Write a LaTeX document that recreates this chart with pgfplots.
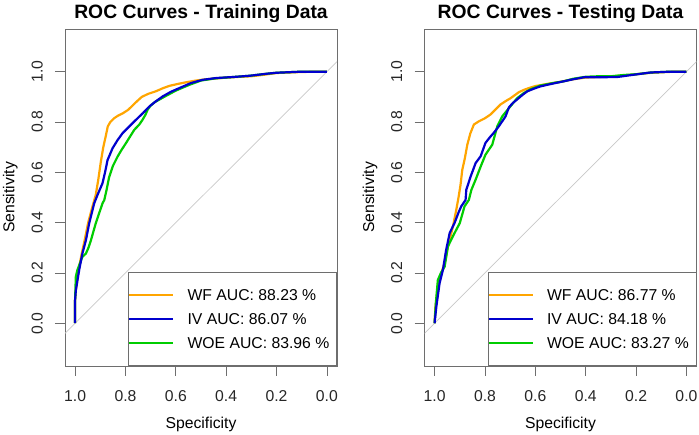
\documentclass[border=0pt]{standalone}
\usepackage{fontspec}
\setmainfont{Liberation Sans}
\usepackage{pgfplots}
\pgfplotsset{compat=1.18}
\definecolor{axgray}{RGB}{110,110,110}
\definecolor{wfcol}{RGB}{255,165,0}
\definecolor{ivcol}{RGB}{0,0,205}
\definecolor{woecol}{RGB}{0,205,0}
\definecolor{diagcol}{RGB}{200,200,200}
\newcommand{\lbfont}{\fontsize{15.8}{18}\selectfont}
\pgfplotsset{
  rocaxis/.style={
    scale only axis, width=272bp, height=337bp,
    xmin=-0.04, xmax=1.04, ymin=-0.17, ymax=1.17,
    x dir=reverse,
    xtick={0,0.2,0.4,0.6,0.8,1},
    xticklabels={0.0,0.2,0.4,0.6,0.8,1.0},
    ytick={0,0.2,0.4,0.6,0.8,1},
    yticklabels={0.0,0.2,0.4,0.6,0.8,1.0},
    tick pos=left, tick align=outside, major tick length=10bp,
    tick style={draw=axgray, line width=0.8bp},
    axis line style={draw=axgray, line width=0.8bp},
    /pgf/number format/assume math mode=true,
    tick label style={font=\lbfont, text=black!85},
    xticklabel style={anchor=north, inner sep=0pt},
    xticklabel shift=14.5bp,
    yticklabel style={rotate=90, anchor=south, inner sep=0pt},
    yticklabel shift=12bp,
    xlabel={Specificity}, ylabel={Sensitivity},
    xlabel style={at={([yshift=-62.5bp]axis description cs:0.5,0)}, anchor=base, inner sep=0pt, font=\lbfont},
    ylabel style={at={([xshift=-50.5bp]axis description cs:0,0.5)}, anchor=base, inner sep=0pt, font=\lbfont},
    every axis title/.style={at={([yshift=10.5bp]axis description cs:0.5,1)}, anchor=base, inner sep=0pt, font=\bfseries\fontsize{19.4}{23}\selectfont},
    legend style={at={(1,0)}, anchor=south east, draw=axgray, line width=0.8bp, fill=white,
      inner xsep=0pt, inner ysep=11bp, row sep=0pt, column sep=13bp,
      cells={anchor=west},
      nodes={inner sep=0pt, text height=17.5bp, text depth=6.2bp, font=\lbfont}},
    legend image code/.code={\path (0bp,0bp) -- (14bp,0bp); \draw[#1] (14bp,0bp) -- (44bp,0bp);},
  },
  wf/.style={draw=wfcol, line width=2.2bp, line join=round},
  iv/.style={draw=ivcol, line width=2.2bp, line join=round},
  woe/.style={draw=woecol, line width=2.2bp, line join=round},
}
\begin{document}
\begin{tikzpicture}[x=1bp,y=1bp]
\path[use as bounding box] (0,0) rectangle (699,435);
% ---------------- Training ----------------
\begin{axis}[rocaxis, at={(65bp,69bp)}, anchor=south west, title={ROC Curves - Training Data}]
\addplot[diagcol, line width=0.7bp, forget plot] coordinates {(1.04,-0.04) (-0.04,1.04)};
\addplot[wf] coordinates {
(1,0) (1,0.09) (0.997,0.13) (0.988,0.2) (0.975,0.27) (0.962,0.33) (0.948,0.4) (0.932,0.46)
(0.918,0.51) (0.908,0.57) (0.898,0.64) (0.888,0.7) (0.878,0.745) (0.87,0.783) (0.86,0.8)
(0.845,0.815) (0.83,0.825) (0.81,0.835) (0.79,0.848) (0.772,0.865) (0.755,0.882) (0.735,0.9)
(0.71,0.912) (0.68,0.922) (0.65,0.935) (0.625,0.944) (0.59,0.952) (0.56,0.958) (0.52,0.965)
(0.48,0.97) (0.42,0.975) (0.36,0.979) (0.3,0.982) (0.25,0.988) (0.2,0.995) (0.15,0.997)
(0.1,0.999) (0.05,1) (0,1)};
\addlegendentry{\makebox[149bp][l]{WF AUC: 88.23 \%}}
\addplot[woe, forget plot] coordinates {
(1,0) (1,0.09) (0.997,0.185) (0.991,0.211) (0.971,0.264) (0.957,0.277) (0.947,0.3) (0.937,0.33)
(0.918,0.397) (0.891,0.477) (0.884,0.49) (0.875,0.53) (0.865,0.58) (0.85,0.625) (0.831,0.663)
(0.815,0.69) (0.798,0.716) (0.78,0.745) (0.765,0.769) (0.745,0.79) (0.732,0.809) (0.72,0.83)
(0.712,0.849) (0.7,0.865) (0.685,0.878) (0.65,0.898) (0.6,0.925) (0.546,0.948) (0.5,0.965)
(0.44,0.974) (0.373,0.979) (0.307,0.984) (0.24,0.992) (0.2,0.996) (0.108,1) (0,1)};
\addplot[iv] coordinates {
(1,0) (1,0.092) (0.997,0.13) (0.984,0.21) (0.971,0.277) (0.957,0.33) (0.944,0.397) (0.924,0.477)
(0.911,0.51) (0.891,0.557) (0.881,0.6) (0.871,0.649) (0.851,0.696) (0.832,0.727) (0.812,0.755)
(0.785,0.782) (0.758,0.809) (0.73,0.836) (0.705,0.862) (0.68,0.882) (0.652,0.902) (0.62,0.92)
(0.586,0.935) (0.54,0.955) (0.493,0.968) (0.44,0.975) (0.373,0.979) (0.307,0.984) (0.24,0.992)
(0.2,0.996) (0.108,1) (0,1)};
\addlegendentry{\makebox[149bp][l]{IV AUC: 86.07 \%}}
\addlegendimage{woe}
\addlegendentry{\makebox[149bp][l]{WOE AUC: 83.96 \%}}
\end{axis}
% ---------------- Testing ----------------
\begin{axis}[rocaxis, at={(424.5bp,69bp)}, anchor=south west, title={ROC Curves - Testing Data}]
\addplot[diagcol, line width=0.7bp, forget plot] coordinates {(1.04,-0.04) (-0.04,1.04)};
\addplot[wf] coordinates {
(1,0) (0.997,0.06) (0.99,0.12) (0.98,0.17) (0.97,0.21) (0.96,0.238) (0.947,0.305) (0.927,0.385)
(0.914,0.45) (0.905,0.5) (0.897,0.55) (0.89,0.61) (0.88,0.655) (0.87,0.71) (0.858,0.755)
(0.844,0.79) (0.824,0.803) (0.8,0.815) (0.778,0.83) (0.758,0.85) (0.738,0.87) (0.718,0.883)
(0.698,0.895) (0.68,0.908) (0.665,0.919) (0.645,0.928) (0.626,0.935) (0.6,0.943) (0.55,0.952)
(0.5,0.96) (0.45,0.97) (0.4,0.977) (0.35,0.979) (0.3,0.981) (0.25,0.985) (0.2,0.99)
(0.15,0.995) (0.1,0.998) (0.05,1) (0,1)};
\addlegendentry{\makebox[149bp][l]{WF AUC: 86.77 \%}}
\addplot[woe, forget plot] coordinates {
(1,0) (0.995,0.08) (0.987,0.172) (0.975,0.2) (0.96,0.225) (0.947,0.305) (0.935,0.33) (0.921,0.358)
(0.9,0.398) (0.881,0.465) (0.864,0.49) (0.854,0.53) (0.837,0.571) (0.817,0.623) (0.798,0.67)
(0.771,0.71) (0.76,0.75) (0.751,0.783) (0.731,0.823) (0.705,0.855) (0.672,0.895) (0.646,0.915)
(0.62,0.93) (0.58,0.945) (0.53,0.955) (0.487,0.962) (0.45,0.972) (0.4,0.98) (0.35,0.982)
(0.3,0.982) (0.25,0.987) (0.2,0.99) (0.14,0.997) (0.07,1) (0,1)};
\addplot[iv] coordinates {
(1,0) (0.993,0.066) (0.98,0.16) (0.967,0.212) (0.954,0.292) (0.94,0.359) (0.921,0.398) (0.905,0.44)
(0.894,0.465) (0.877,0.49) (0.874,0.531) (0.857,0.583) (0.837,0.637) (0.817,0.664) (0.798,0.717)
(0.78,0.74) (0.765,0.757) (0.745,0.783) (0.73,0.805) (0.718,0.823) (0.705,0.858) (0.69,0.875)
(0.672,0.89) (0.652,0.907) (0.632,0.922) (0.605,0.933) (0.579,0.942) (0.53,0.953) (0.487,0.962)
(0.45,0.97) (0.407,0.978) (0.35,0.978) (0.275,0.979) (0.21,0.988) (0.143,0.997) (0.07,1) (0,1)};
\addlegendentry{\makebox[149bp][l]{IV AUC: 84.18 \%}}
\addlegendimage{woe}
\addlegendentry{\makebox[149bp][l]{WOE AUC: 83.27 \%}}
\end{axis}
\end{tikzpicture}
\end{document}
